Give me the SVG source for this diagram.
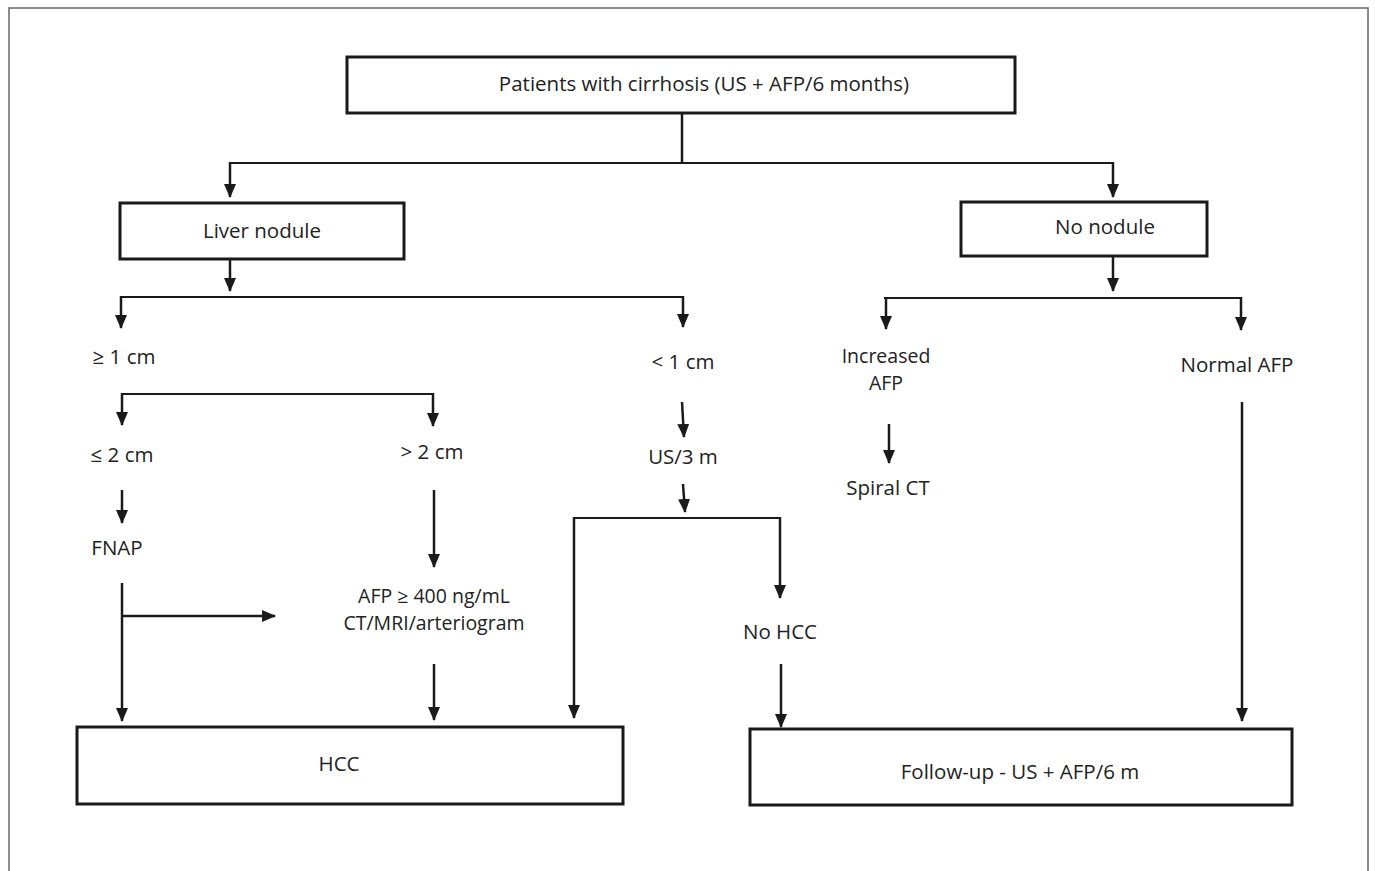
<svg xmlns="http://www.w3.org/2000/svg" width="1375" height="871" viewBox="0 0 1375 871">
<style>
.box{fill:#fff;stroke:#1a1a1a;stroke-width:3}
.t{font-family:"Open Sans","Noto Sans",sans-serif;font-size:20.5px;fill:#222;text-anchor:middle}
.s{font-size:19.5px}
.c{fill:none;stroke:#1a1a1a;stroke-width:2.5}
.h{fill:none;stroke:#1a1a1a;stroke-width:2}
.a{fill:none;stroke:#1a1a1a;stroke-width:2.5;marker-end:url(#ah)}
</style>
<defs>
<marker id="ah" viewBox="0 0 14 12" refX="13" refY="6" markerWidth="14" markerHeight="12" markerUnits="userSpaceOnUse" orient="auto">
<path d="M0,0 L14,6 L0,12 z" fill="#1a1a1a"/>
</marker>
</defs>
<rect width="1375" height="871" fill="#fff"/>
<path d="M9,871 V8 H1368 V871" fill="none" stroke="#666" stroke-width="1.5"/>

<g id="connectors">
<line class="c" x1="682" y1="113" x2="682" y2="163"/>
<line class="h" x1="229" y1="163" x2="1114" y2="163"/>
<line class="a" x1="230" y1="162" x2="230" y2="197"/>
<line class="a" x1="1113" y1="162" x2="1113" y2="197"/>

<line class="a" x1="230" y1="259" x2="230" y2="291"/>
<line class="h" x1="120" y1="297" x2="684" y2="297"/>
<line class="a" x1="121" y1="296" x2="121" y2="328"/>
<line class="a" x1="683" y1="296" x2="683" y2="327"/>

<line class="a" x1="1113" y1="256" x2="1113" y2="291"/>
<line class="h" x1="884" y1="298" x2="1241" y2="298"/>
<line class="a" x1="886" y1="297" x2="886" y2="329"/>
<line class="a" x1="1241" y1="297" x2="1241" y2="330"/>

<line class="h" x1="121" y1="394" x2="434" y2="394"/>
<line class="a" x1="122" y1="393" x2="122" y2="425"/>
<line class="a" x1="433" y1="393" x2="433" y2="426"/>

<line class="a" x1="122" y1="490" x2="122" y2="523"/>
<line class="a" x1="434" y1="490" x2="434" y2="567"/>
<line class="a" x1="122" y1="583" x2="122" y2="721"/>
<line class="a" x1="122" y1="616" x2="275" y2="616"/>
<line class="a" x1="434" y1="664" x2="434" y2="720"/>

<line class="a" x1="682" y1="402" x2="684" y2="437"/>
<line class="a" x1="683" y1="484" x2="685" y2="512"/>
<line class="h" x1="573" y1="518" x2="779" y2="518"/>
<line class="a" x1="574" y1="517" x2="574" y2="718"/>
<line class="a" x1="780" y1="517" x2="780" y2="598"/>
<line class="a" x1="781" y1="664" x2="781" y2="727"/>

<line class="a" x1="889" y1="424" x2="889" y2="463"/>
<line class="a" x1="1242" y1="402" x2="1242" y2="721"/>
</g>

<g id="n-patients">
<rect class="box" x="347" y="57" width="668" height="56"/>
<text class="t" x="704" y="91">Patients with cirrhosis (US + AFP/6 months)</text>
</g>
<g id="n-liver">
<rect class="box" x="120" y="203" width="284" height="56"/>
<text class="t" x="262" y="238">Liver nodule</text>
</g>
<g id="n-nonodule">
<rect class="box" x="961" y="202" width="246" height="54"/>
<text class="t" x="1105" y="234">No nodule</text>
</g>
<g id="n-ge1"><text class="t" x="124" y="364">≥ 1 cm</text></g>
<g id="n-lt1"><text class="t" x="683" y="369">&lt; 1 cm</text></g>
<g id="n-incafp"><text class="t s" x="886" y="363">Increased</text><text class="t s" x="886" y="390">AFP</text></g>
<g id="n-normafp"><text class="t" x="1237" y="372">Normal AFP</text></g>
<g id="n-le2"><text class="t" x="122" y="462">≤ 2 cm</text></g>
<g id="n-gt2"><text class="t" x="432" y="459">&gt; 2 cm</text></g>
<g id="n-fnap"><text class="t" x="117" y="555">FNAP</text></g>
<g id="n-afp400"><text class="t s" x="434" y="603">AFP ≥ 400 ng/mL</text><text class="t s" x="434" y="630">CT/MRI/arteriogram</text></g>
<g id="n-us3"><text class="t" x="683" y="464">US/3 m</text></g>
<g id="n-nohcc"><text class="t" x="780" y="639">No HCC</text></g>
<g id="n-spiral"><text class="t" x="888" y="495">Spiral CT</text></g>
<g id="n-hcc">
<rect class="box" x="77" y="727" width="546" height="77"/>
<text class="t" x="339" y="771">HCC</text>
</g>
<g id="n-followup">
<rect class="box" x="750" y="729" width="542" height="76"/>
<text class="t" x="1020" y="779">Follow-up - US + AFP/6 m</text>
</g>
</svg>
